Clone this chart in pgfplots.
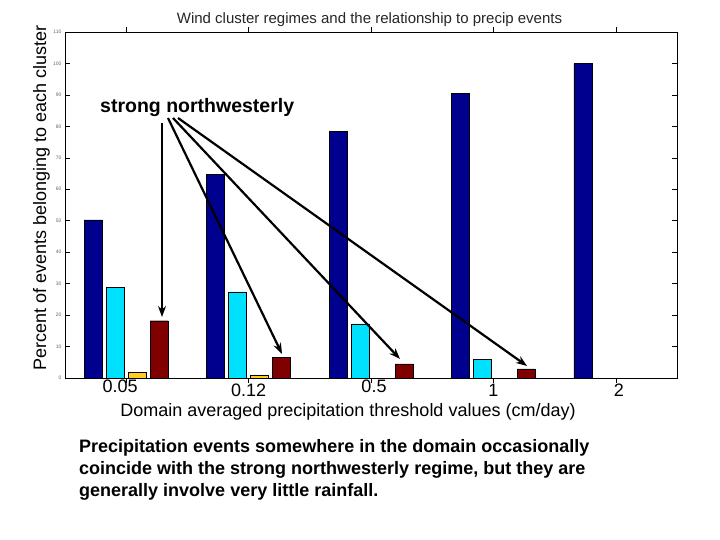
\documentclass[border=0pt]{standalone}
\usepackage{pgfplots}
\pgfplotsset{compat=1.18}
\usepackage{fontspec}
\setmainfont{Liberation Sans}
\usetikzlibrary{arrows.meta}
\definecolor{cdblue}{HTML}{00008F}
\definecolor{ccyan}{HTML}{00E0FF}
\definecolor{cyell}{HTML}{FFCC22}
\definecolor{cdred}{HTML}{800000}
\begin{document}
\begin{tikzpicture}[x=1pt,y=1pt]
\path[use as bounding box, fill=white] (0,0) rectangle (720,540);
\begin{axis}[at={(65pt,162pt)}, anchor=south west,
  width=612pt, height=346pt, scale only axis,
  xmin=0.5, xmax=5.5, ymin=0, ymax=110,
  xtick={1,2,3,4,5},
  xticklabels={\hspace*{-12pt}0.05, \raisebox{-4pt}{0.12}, \hspace*{6pt}0.5, \raisebox{-4pt}{1}, \hspace*{6pt}\raisebox{-4pt}{2}},
  ytick={0,10,...,110},
  tick align=inside, major tick length=5pt,
  tick style={black, line width=0.5pt},
  axis line style={black, line width=0.8pt},
  xticklabel style={anchor=base, yshift=-10pt, font=\fontsize{18}{20}\selectfont},
  yticklabel style={font=\fontsize{5}{6}\selectfont, text=black!60},
  /pgf/number format/assume math mode=true,
  ybar=4pt, bar width=18pt,
]
\addplot[fill=cdblue, draw=black, line width=0.3pt] coordinates {(1,50.3) (2,64.7) (3,78.4) (4,90.5) (5,100.0)};
\addplot[fill=ccyan, draw=black, line width=0.3pt] coordinates {(1,28.9) (2,27.4) (3,17.2) (4,6.0)};
\addplot[fill=cyell, draw=black, line width=0.3pt] coordinates {(1,1.9) (2,1.0)};
\addplot[fill=cdred, draw=black, line width=0.3pt] coordinates {(1,18.2) (2,6.6) (3,4.5) (4,2.9)};
\end{axis}
% title and labels
\node[anchor=base, inner sep=0, font=\fontsize{15}{18}\selectfont, text=black!85] at (369.5,516) {Wind cluster regimes and the relationship to precip events};
\node[anchor=base, inner sep=0, font=\fontsize{18}{22}\selectfont] at (348,123) {Domain averaged precipitation threshold values (cm/day)};
\node[anchor=base, inner sep=0, rotate=90, font=\fontsize{18}{22}\selectfont] at (46,342) {Percent of events belonging to each cluster};
% annotation
\node[anchor=base west, inner sep=0, font=\bfseries\fontsize{19.5}{22}\selectfont] at (100,427) {strong northwesterly};
\begin{scope}[line width=2.2pt, -{Stealth[length=11pt,width=8pt]}]
\draw (162,417) -- (162,223);
\draw (168,422) -- (282,186);
\draw (173,422) -- (400,181);
\draw (178,422) -- (527,174);
\end{scope}
% bottom paragraph
\begin{scope}[every node/.style={anchor=base west, inner sep=0, font=\bfseries\fontsize{18}{22}\selectfont}]
\node at (79,87) {Precipitation events somewhere in the domain occasionally};
\node at (79,65) {coincide with the strong northwesterly regime, but they are};
\node at (79,43) {generally involve very little rainfall.};
\end{scope}
\end{tikzpicture}
\end{document}
